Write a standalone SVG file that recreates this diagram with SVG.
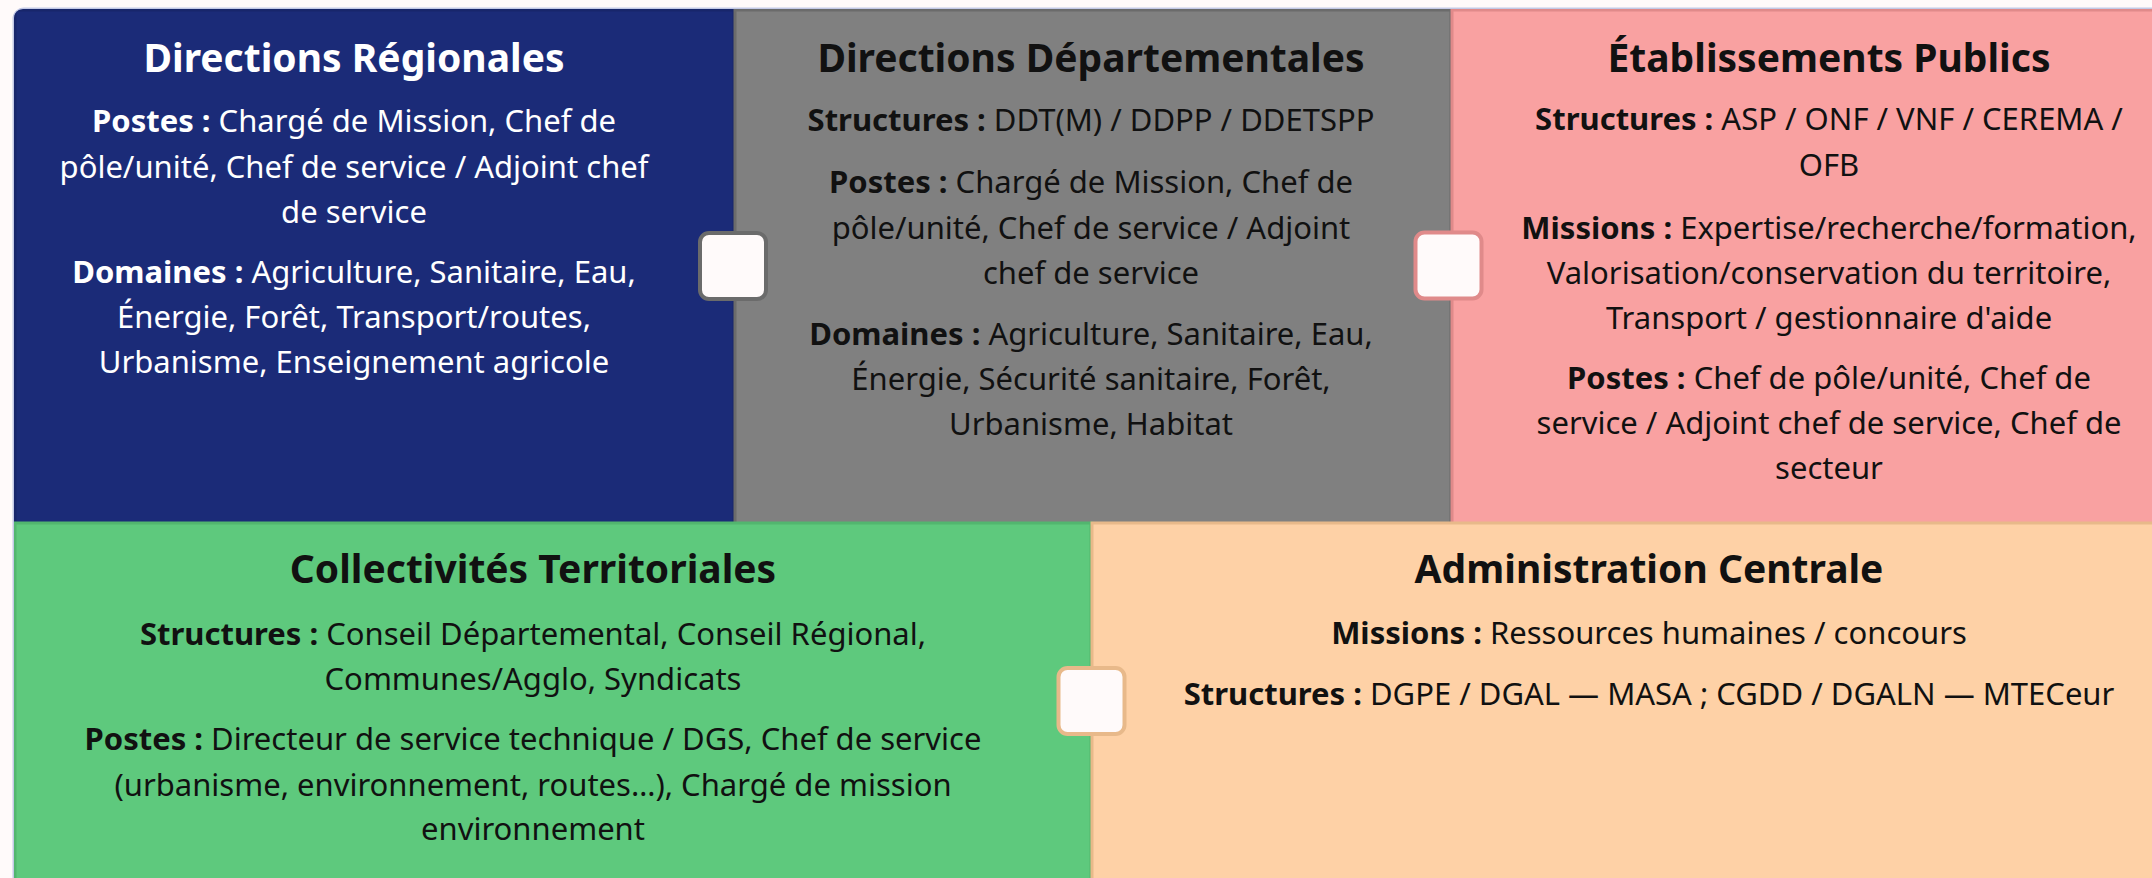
<svg xmlns="http://www.w3.org/2000/svg" width="2152" height="878" viewBox="0 0 2152 878">
  <style>
    .t { font-family: "Noto Sans", "Inter", "DejaVu Sans", sans-serif; text-anchor: middle; }
    .title { font-size: 39px; font-weight: 700; }
    .body { font-size: 31px; font-weight: 400; }
    .b { font-weight: 700; }
    .light { fill: #ffffff; }
    .dark { fill: #111111; }
    .handle { fill: #fffafa; stroke-width: 4; }
  </style>
  <defs>
    <clipPath id="frame">
      <rect x="14" y="9" width="2200" height="940" rx="9" ry="9"/>
    </clipPath>
  </defs>
  <rect x="0" y="0" width="2152" height="878" fill="#fffafa"/>
  <rect x="14" y="9" width="2200" height="940" rx="10" ry="10" fill="none" stroke="#c3c9e6" stroke-width="3"/>
  <g clip-path="url(#frame)">
    <g id="directions-regionales">
      <rect x="15" y="10" width="719" height="520" fill="#1b2b78" stroke="#18266b" stroke-width="3"/>
    </g>
    <g id="directions-departementales">
      <rect x="735" y="10" width="716" height="520" fill="#808080" stroke="#6b6b6b" stroke-width="3"/>
    </g>
    <g id="etablissements-publics">
      <rect x="1452" y="10" width="760" height="520" fill="#f9a1a1" stroke="#e08a8a" stroke-width="3"/>
    </g>
    <g id="collectivites-territoriales">
      <rect x="15" y="523" width="1076" height="420" fill="#5ec97d" stroke="#52b66f" stroke-width="3"/>
    </g>
    <g id="administration-centrale">
      <rect x="1092" y="523" width="1120" height="420" fill="#fed1a6" stroke="#e8b98a" stroke-width="3"/>
    </g>
  </g>

  <g id="texts-dr" class="t light">
    <text class="title" x="354" y="72">Directions Régionales</text>
    <text class="body" x="354" y="132"><tspan class="b">Postes :</tspan> Chargé de Mission, Chef de</text>
    <text class="body" x="354" y="177.5">pôle/unité, Chef de service / Adjoint chef</text>
    <text class="body" x="354" y="223">de service</text>
    <text class="body" x="354" y="283"><tspan class="b">Domaines :</tspan> Agriculture, Sanitaire, Eau,</text>
    <text class="body" x="354" y="328">Énergie, Forêt, Transport/routes,</text>
    <text class="body" x="354" y="373">Urbanisme, Enseignement agricole</text>
  </g>
  <g id="texts-dd" class="t dark">
    <text class="title" x="1091" y="72">Directions Départementales</text>
    <text class="body" x="1091" y="131"><tspan class="b">Structures :</tspan> DDT(M) / DDPP / DDETSPP</text>
    <text class="body" x="1091" y="193"><tspan class="b">Postes :</tspan> Chargé de Mission, Chef de</text>
    <text class="body" x="1091" y="239">pôle/unité, Chef de service / Adjoint</text>
    <text class="body" x="1091" y="284">chef de service</text>
    <text class="body" x="1091" y="345"><tspan class="b">Domaines :</tspan> Agriculture, Sanitaire, Eau,</text>
    <text class="body" x="1091" y="390">Énergie, Sécurité sanitaire, Forêt,</text>
    <text class="body" x="1091" y="435">Urbanisme, Habitat</text>
  </g>
  <g id="texts-ep" class="t dark">
    <text class="title" x="1829" y="72">Établissements Publics</text>
    <text class="body" x="1829" y="130"><tspan class="b">Structures :</tspan> ASP / ONF / VNF / CEREMA /</text>
    <text class="body" x="1829" y="176">OFB</text>
    <text class="body" x="1829" y="239"><tspan class="b">Missions :</tspan> Expertise/recherche/formation,</text>
    <text class="body" x="1829" y="284">Valorisation/conservation du territoire,</text>
    <text class="body" x="1829" y="329">Transport / gestionnaire d'aide</text>
    <text class="body" x="1829" y="389"><tspan class="b">Postes :</tspan> Chef de pôle/unité, Chef de</text>
    <text class="body" x="1829" y="434">service / Adjoint chef de service, Chef de</text>
    <text class="body" x="1829" y="479">secteur</text>
  </g>
  <g id="texts-ct" class="t dark">
    <text class="title" x="533" y="583">Collectivités Territoriales</text>
    <text class="body" x="533" y="645"><tspan class="b">Structures :</tspan> Conseil Départemental, Conseil Régional,</text>
    <text class="body" x="533" y="690">Communes/Agglo, Syndicats</text>
    <text class="body" x="533" y="750"><tspan class="b">Postes :</tspan> Directeur de service technique / DGS, Chef de service</text>
    <text class="body" x="533" y="796">(urbanisme, environnement, routes…), Chargé de mission</text>
    <text class="body" x="533" y="840">environnement</text>
  </g>
  <g id="texts-ac" class="t dark">
    <text class="title" x="1649" y="583">Administration Centrale</text>
    <text class="body" x="1649" y="644"><tspan class="b">Missions :</tspan> Ressources humaines / concours</text>
    <text class="body" x="1649" y="705"><tspan class="b">Structures :</tspan> DGPE / DGAL — MASA ; CGDD / DGALN — MTECeur</text>
  </g>

  <g id="connectors">
    <rect id="handle-dr-dd" class="handle" x="700" y="233" width="66" height="66" rx="9" ry="9" stroke="#6b6b6b"/>
    <rect id="handle-dd-ep" class="handle" x="1415.5" y="232.5" width="66" height="66" rx="9" ry="9" stroke="#e08a8a"/>
    <rect id="handle-ct-ac" class="handle" x="1058.5" y="668" width="66" height="66" rx="9" ry="9" stroke="#e8b98a"/>
  </g>
</svg>
